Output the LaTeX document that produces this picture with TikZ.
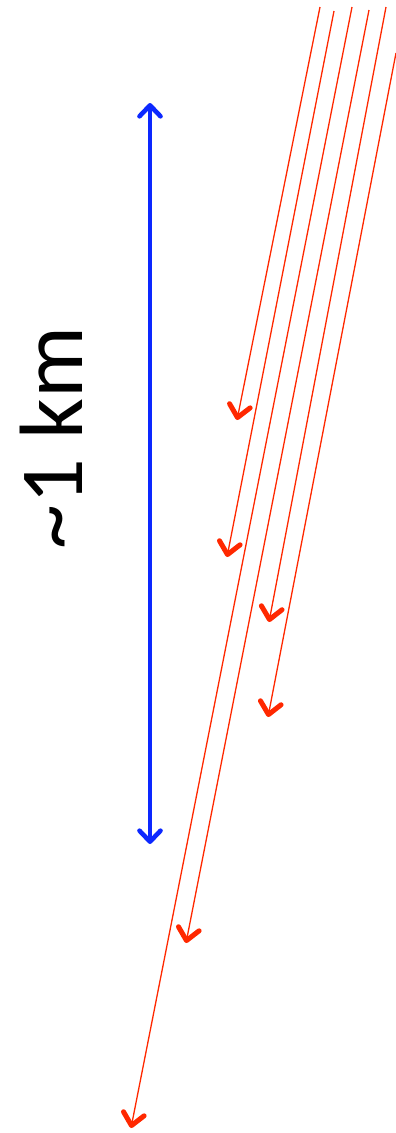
\documentclass[tikz,border=0pt]{standalone}
\usepackage{fontspec}
\setmainfont{Carlito}
\usetikzlibrary{arrows.meta}
\definecolor{raycol}{RGB}{255,40,0}
\definecolor{barcol}{RGB}{12,40,255}
\begin{document}
\begin{tikzpicture}[
    x=1pt, y=-1pt,
    ray/.style={draw=raycol, line width=1.3pt,
        -{Straight Barb[length=12pt, width=21pt, line width=5pt, round]}},
    scalebar/.style={draw=barcol, line width=4.4pt,
        {Straight Barb[length=11pt, width=21pt, line width=4.6pt, round]}-{Straight Barb[length=11pt, width=21pt, line width=4.6pt, round]}},
    every node/.style={inner sep=0pt}
]
\useasboundingbox (0,0) rectangle (396,1133);
% ray start and end points
\coordinate (s1) at (320,7);
\coordinate (e1) at (237,420);
\coordinate (s2) at (334,11);
\coordinate (e2) at (227,557);
\coordinate (s3) at (352,7);
\coordinate (e3) at (131,1128);
\coordinate (s4) at (369,10);
\coordinate (e4) at (186,943);
\coordinate (s5) at (386,7);
\coordinate (e5) at (269,622);
\coordinate (s6) at (396,53);
\coordinate (e6) at (268,717);
\draw[ray] (s1) -- (e1);
\draw[ray] (s2) -- (e2);
\draw[ray] (s3) -- (e3);
\draw[ray] (s4) -- (e4);
\draw[ray] (s5) -- (e5);
\draw[ray] (s6) -- (e6);
% scale bar
\coordinate (top) at (150,103);
\coordinate (bot) at (150,844);
\draw[scalebar] (top) -- (bot);
\node[rotate=90, font=\fontsize{90}{90}\selectfont] (scale) at (51,438) {\textasciitilde 1 km};
\end{tikzpicture}
\end{document}
